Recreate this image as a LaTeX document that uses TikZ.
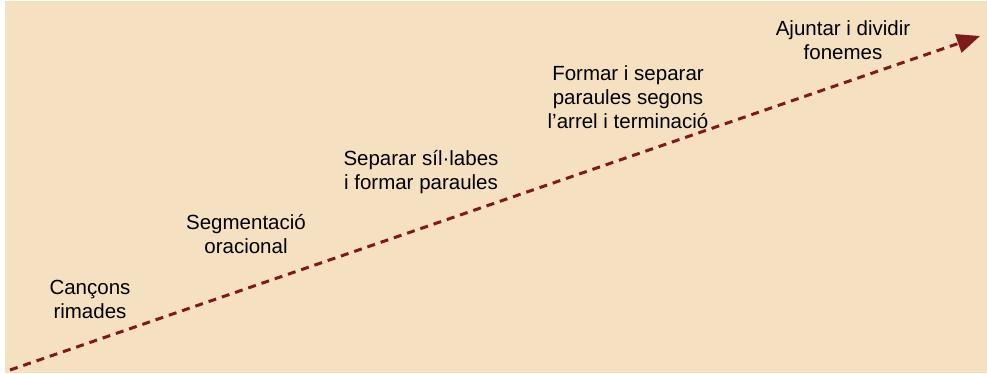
\documentclass[tikz,border=0pt]{standalone}
\usepackage{fontspec}
\setmainfont{Liberation Sans}
\usetikzlibrary{arrows.meta}
\definecolor{bg}{HTML}{F5E1C2}
\definecolor{arrowred}{HTML}{7F1A1A}
\begin{document}
\begin{tikzpicture}[x=1pt,y=1pt,
  lbl/.style={align=center,font=\fontsize{20.5}{24}\selectfont,text=black,inner sep=0pt},
  trend/.style={draw=arrowred,line width=3pt,dash pattern=on 8pt off 6pt,
    -{Triangle[length=23pt,width=19pt,fill=arrowred]}}]
\useasboundingbox (0,0) rectangle (987,373);
\fill[bg] (5,0) rectangle (987,372);
\coordinate (s) at (10,3);
\coordinate (e) at (980,337);
\draw[trend] (s) -- (e);
\node[lbl] (n1) at (90,74) {Cançons\\rimades};
\node[lbl] (n2) at (246,139) {Segmentació\\oracional};
\node[lbl] (n3) at (421,201) {Separar síl·labes\\i formar paraules};
\node[lbl] (n4) at (628,276) {Formar i separar\\paraules segons\\l’arrel i terminació};
\node[lbl] (n5) at (843,333) {Ajuntar i dividir\\fonemes};
\end{tikzpicture}
\end{document}
